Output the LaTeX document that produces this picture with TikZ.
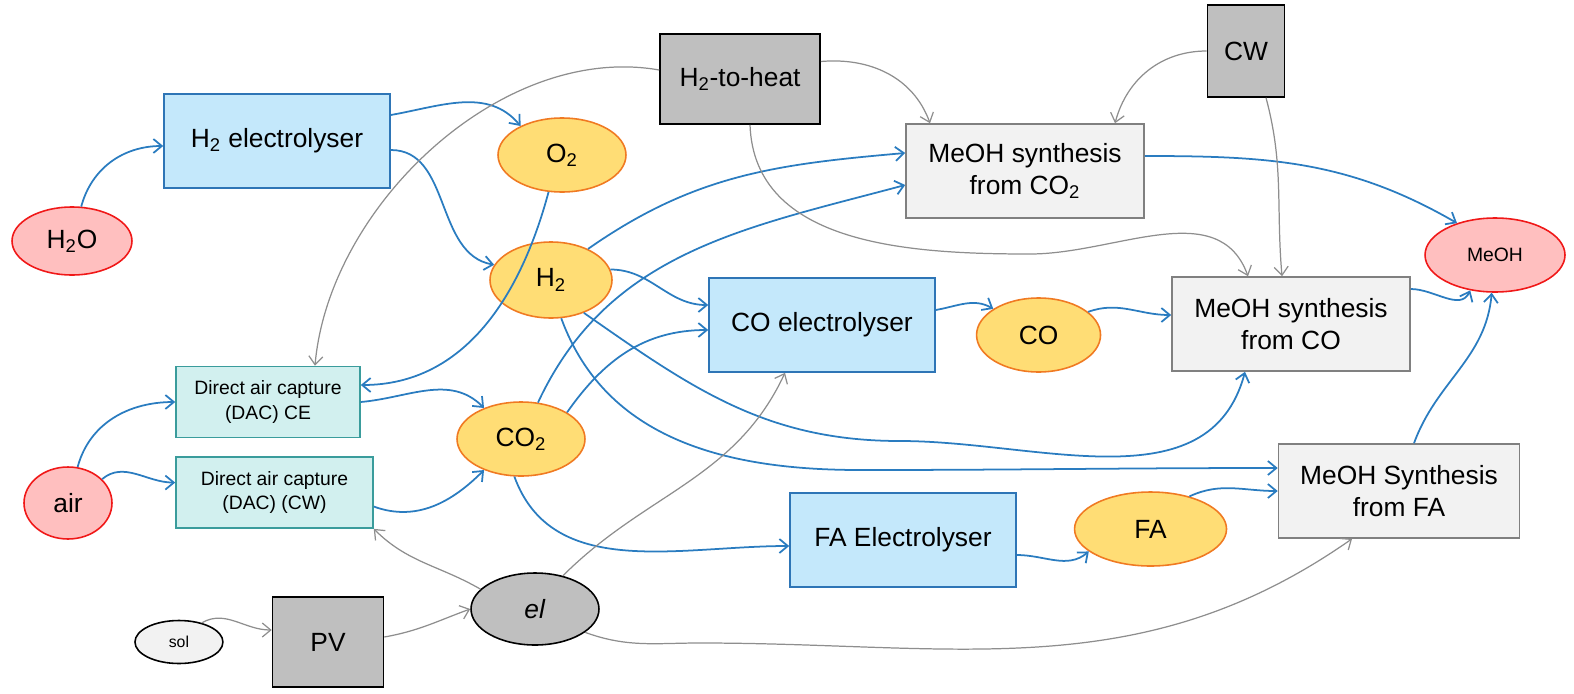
\documentclass[tikz,border=0pt]{standalone}
\usepackage{fontspec}
\setmainfont{Liberation Sans}
\usetikzlibrary{positioning,arrows.meta,shapes.geometric}

\definecolor{procfill}{HTML}{C4E8FB}
\definecolor{procline}{HTML}{2E75B6}
\definecolor{flowfill}{HTML}{FFDD75}
\definecolor{flowline}{HTML}{F07A22}
\definecolor{extfill}{HTML}{FFBFBF}
\definecolor{extline}{HTML}{F01818}
\definecolor{dacfill}{HTML}{D2F0EF}
\definecolor{dacline}{HTML}{3A9C9C}
\definecolor{utilfill}{HTML}{BFBFBF}
\definecolor{synfill}{HTML}{F2F2F2}
\definecolor{synline}{HTML}{808080}
\definecolor{bluearrow}{HTML}{2A7CC0}
\definecolor{grayarrow}{HTML}{8E8E8E}

\begin{document}
\begin{tikzpicture}[
    x=0.02cm, y=-0.02cm,
    every node/.style={inner sep=2pt, align=center, font=\fontsize{15}{18}\selectfont},
    >={Straight Barb[length=1.7mm,width=2.8mm]},
    proc/.style={draw=procline, fill=procfill, line width=0.9pt, minimum width=4.52cm, minimum height=1.88cm},
    syn/.style={draw=synline, fill=synfill, line width=0.9pt, minimum width=4.76cm, minimum height=1.88cm},
    util/.style={draw=black, fill=utilfill, line width=0.9pt},
    dac/.style={draw=dacline, fill=dacfill, line width=0.9pt, minimum height=1.42cm, font=\fontsize{11}{14}\selectfont},
    flowel/.style={ellipse, draw=flowline, fill=flowfill, line width=0.9pt, inner sep=0pt, minimum width=2.56cm, minimum height=1.48cm},
    extel/.style={ellipse, draw=extline, fill=extfill, line width=0.9pt, inner sep=0pt},
    bluearr/.style={->, draw=bluearrow, line width=1pt},
    grayarr/.style={->, draw=grayarrow, line width=0.7pt}
]
\useasboundingbox (0,0) rectangle (1574,693);

% Entradas
\node[extel, minimum width=2.4cm, minimum height=1.36cm] (h2o) at (72,241) {H\textsubscript{2}O};
\node[extel, minimum width=1.76cm, minimum height=1.44cm] (air) at (68,503) {air};

% Electrolizadores
\node[proc] (h2el) at (277,141) {H\textsubscript{2} electrolyser};
\node[proc] (coel) at (822,325) {CO electrolyser};
\node[proc] (fael) at (903,540) {FA Electrolyser};

% Captura directa
\node[dac, minimum width=3.68cm] (dacCE) at (268,402) {Direct air capture\\(DAC) CE};
\node[dac, minimum width=3.94cm, below=0.36cm of dacCE.south west, anchor=north west] (dacCW)
    {Direct air capture\\(DAC) (CW)};

% Corrientes intermedias
\node[flowel] (o2) at (562,155) {O\textsubscript{2}};
\node[flowel, minimum width=2.44cm, minimum height=1.52cm] (h2) at (551,280) {H\textsubscript{2}};
\node[flowel] (co2) at (521,439) {CO\textsubscript{2}};
\node[flowel, minimum width=2.48cm, right=0.8cm of coel, yshift=-0.2cm] (co) {CO};
\node[flowel, minimum width=3.04cm, right=1.14cm of fael, yshift=0.22cm] (fa) {FA};

% Utilidades
\node[util, minimum width=3.2cm, minimum height=1.8cm] (heat) at (740,79) {H\textsubscript{2}-to-heat};
\node[util, minimum width=1.54cm, minimum height=1.84cm] (cw) at (1246,51) {CW};
\node[util, minimum width=2.22cm, minimum height=1.8cm] (pv) at (328,642) {PV};
\node[ellipse, draw=black, fill=utilfill, line width=0.9pt, minimum width=2.56cm, minimum height=1.44cm] (el) at (535,609) {\textit{el}};
\node[ellipse, draw=black, fill=synfill, line width=0.9pt, minimum width=1.76cm, minimum height=0.86cm,
      font=\fontsize{9}{11}\selectfont, left=0.96cm of pv] (sol) {sol};

% Sintesis de metanol
\node[syn] (synCO2) at (1025,171) {MeOH synthesis\\from CO\textsubscript{2}};
\node[syn] (synCO) at (1291,324) {MeOH synthesis\\from CO};
\node[syn, minimum width=4.82cm] (synFA) at (1399,491) {MeOH Synthesis\\from FA};
\node[extel, minimum width=2.8cm, minimum height=1.48cm, font=\fontsize{11}{13}\selectfont] (meoh) at (1495,255) {MeOH};

% Puntos de paso
\coordinate (lowA) at (900,441);
\coordinate (lowB) at (860,470);
\coordinate (midC) at (1030,254);
\coordinate (lowD) at (700,643);

% Flechas azules
\draw[bluearr] (h2o.75) to[out=75,in=180] ([yshift=-0.1cm]h2el.west);
\draw[bluearr] ([yshift=0.52cm]h2el.east) to[out=10,in=130] (o2.145);
\draw[bluearr] ([yshift=-0.18cm]h2el.east) to[out=0,in=170] (h2.165);
\draw[bluearr] (o2.250) to[out=255,in=0] ([yshift=0.34cm]dacCE.east);
\draw[bluearr] (air.75) to[out=75,in=180] (dacCE.west);
\draw[bluearr] (air.35) to[out=40,in=180] ([yshift=0.2cm]dacCW.west);
\draw[bluearr] (dacCE.east) to[out=5,in=135] (co2.140);
\draw[bluearr] ([yshift=-0.28cm]dacCW.east) to[out=-20,in=225] (co2.220);
\draw[bluearr] (h2.40) to[out=35,in=185] ([yshift=0.36cm]synCO2.west);
\draw[bluearr] (co2.65) to[out=65,in=195] ([yshift=-0.28cm]synCO2.west);
\draw[bluearr] (h2.10) to[out=0,in=180] ([yshift=0.4cm]coel.west);
\draw[bluearr] (co2.30) to[out=55,in=180] ([yshift=-0.1cm]coel.west);
\draw[bluearr] ([yshift=0.3cm]coel.east) to[out=10,in=150] (co.150);
\draw[bluearr] (co.25) to[out=20,in=180] ([yshift=0.18cm]synCO.west);
\draw[bluearr] (h2.-45) to[out=-35,in=180] (lowA) to[out=0,in=255] ([xshift=-0.92cm]synCO.south);
\draw[bluearr] (h2.-75) to[out=-70,in=180] (lowB) to[out=0,in=180] ([yshift=0.46cm]synFA.west);
\draw[bluearr] (co2.-100) to[out=-70,in=180] ([yshift=-0.12cm]fael.west);
\draw[bluearr] ([yshift=-0.3cm]fael.east) to[out=0,in=220] (fa.200);
\draw[bluearr] (fa.40) to[out=25,in=180] (synFA.west);
\draw[bluearr] ([yshift=0.3cm]synCO2.east) to[out=0,in=150] (meoh.140);
\draw[bluearr] ([yshift=0.7cm]synCO.east) to[out=0,in=245] (meoh.235);
\draw[bluearr] ([xshift=0.3cm]synFA.north) to[out=70,in=265] (meoh.265);

% Flechas grises
\draw[grayarr] ([yshift=0.18cm]heat.west) to[out=170,in=85, looseness=0.9] ([xshift=0.94cm]dacCE.north);
\draw[grayarr] ([yshift=0.35cm]heat.east) to[out=5,in=110] ([xshift=-1.9cm]synCO2.north);
\draw[grayarr] ([xshift=0.2cm]heat.south) to[out=-88,in=180] (midC) to[out=0,in=110] ([xshift=-0.86cm]synCO.north);
\draw[grayarr] (cw.west) to[out=180,in=75] ([xshift=1.8cm]synCO2.north);
\draw[grayarr] ([xshift=0.4cm]cw.south) to[out=-75,in=95] ([xshift=-0.18cm]synCO.north);
\draw[grayarr] (el.160) to[out=150,in=-45] (dacCW.south east);
\draw[grayarr] (el.50) to[out=45,in=245] ([xshift=-0.74cm]coel.south);
\draw[grayarr] (el.-25) to[out=-20,in=180] (lowD) to[out=0,in=215] ([xshift=-0.94cm]synFA.south);
\draw[grayarr] (sol.40) to[out=30,in=180] ([yshift=0.24cm]pv.west);
\draw[grayarr] ([yshift=0.1cm]pv.east) to[out=10,in=200] (el.west);

\end{tikzpicture}
\end{document}
